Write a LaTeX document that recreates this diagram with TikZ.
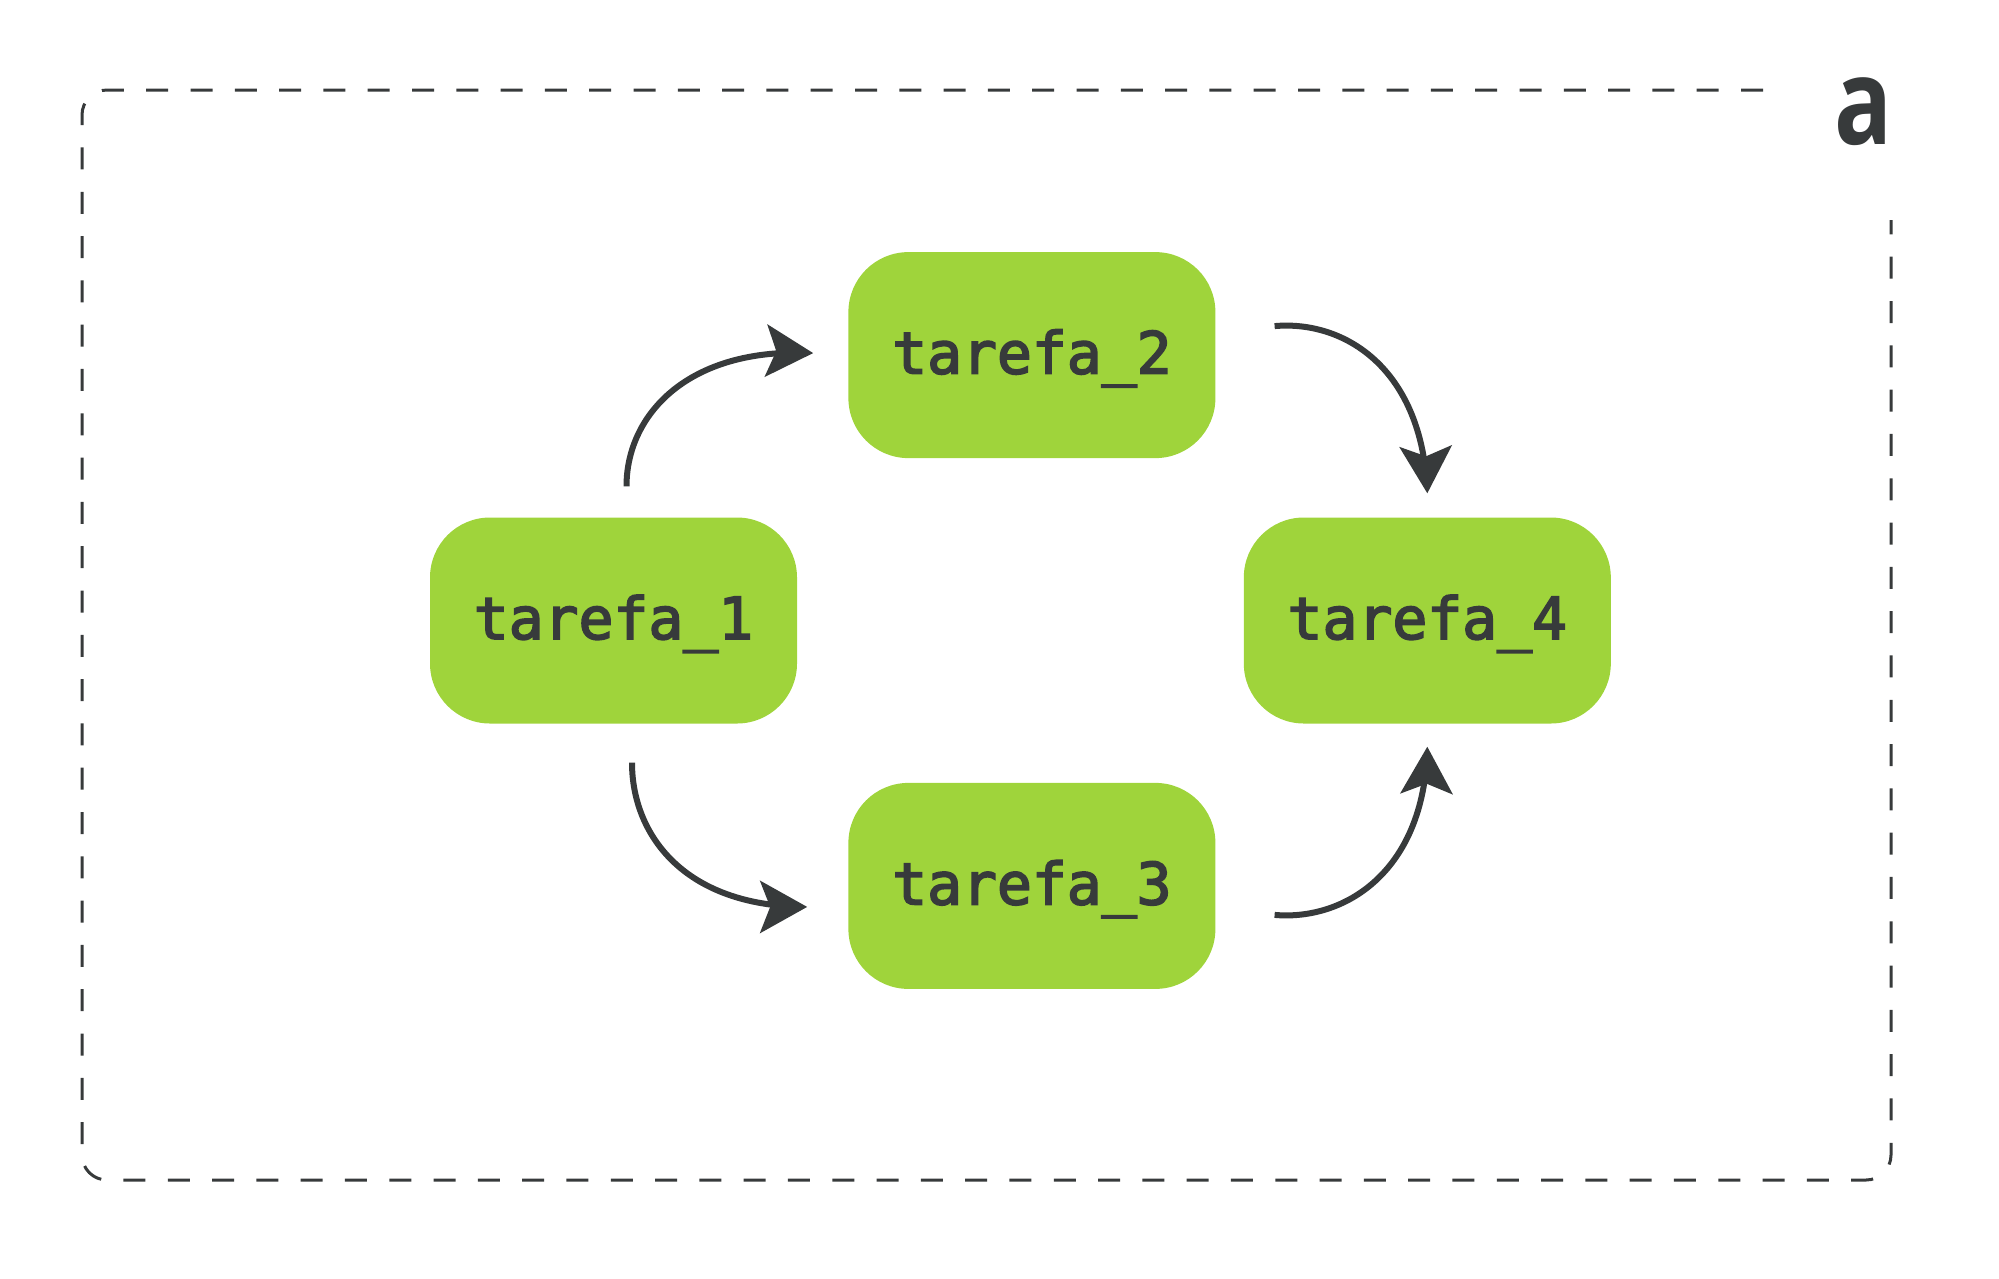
\documentclass[tikz,border=0pt]{standalone}
\usepackage{fontspec}
\usepackage{xcolor}
\usepackage{tikz}
\usetikzlibrary{positioning,arrows.meta,bending}
\newfontfamily\taskfont[FakeBold=3]{DejaVu Sans Mono}
\newfontfamily\logofont{Open Sans}
\definecolor{taskgreen}{HTML}{9FD43B}
\definecolor{inkgray}{HTML}{373A3B}

\begin{document}
\begin{tikzpicture}[x=1pt, y=-1pt, >={Stealth[length=47pt, width=52pt, inset=10pt, flex=0]},
    task/.style={fill=taskgreen, rounded corners=60pt, minimum width=367pt, minimum height=206pt, inner sep=0pt,
      text=inkgray, text height=50pt, text depth=13pt, font=\fontsize{58}{60}\selectfont\taskfont},
    flow/.style={draw=inkgray, line width=6pt, ->, out looseness=0.8, in looseness=1.4}]
  \useasboundingbox (0,0) rectangle (1999,1278);
  \node[task] (t1) at (613.5,620.5) {tarefa\_1};
  \node[task, above right=59pt and 51pt of t1] (t2) {tarefa\_2};
  \node[task, below right=59pt and 51pt of t1] (t3) {tarefa\_3};
  \node[task, below right=59pt and 28pt of t2] (t4) {tarefa\_4};
  \draw[inkgray, line width=3pt, rounded corners=25pt, dash pattern=on 22pt off 22.3pt]
    (1763,90) -- (82,90) -- (82,1180) -- (1891,1180) -- (1891,220);
  \node[text=inkgray, font=\fontsize{120}{120}\selectfont\logofont\bfseries, xscale=0.8, inner sep=0pt] (logo) at (1863,112) {a};
  \draw[flow] ([xshift=13pt,yshift=31pt]t1.north) to[out=90, in=177] ([xshift=-35pt,yshift=2pt]t2.west);
  \draw[flow] ([xshift=59pt,yshift=29pt]t2.east) to[out=5, in=92] ([yshift=24pt]t4.north);
  \draw[flow] ([xshift=18.5pt,yshift=-39pt]t1.south) to[out=-90, in=180] ([xshift=-41pt,yshift=-21pt]t3.west);
  \draw[flow] ([xshift=59pt,yshift=-29pt]t3.east) to[out=-5, in=-91] ([yshift=-23pt]t4.south);
\end{tikzpicture}
\end{document}
